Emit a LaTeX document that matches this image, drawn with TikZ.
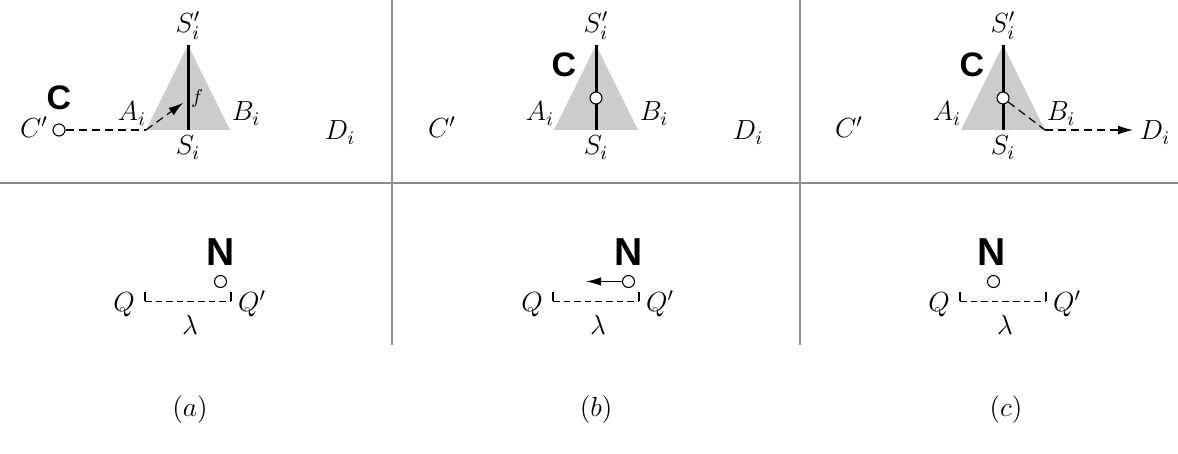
\RequirePackage{fix-cm}
\documentclass[tikz,border=0pt]{standalone}
\usepackage{fontspec}
\newfontfamily\boldsans{Liberation Sans}
\usetikzlibrary{arrows.meta}
\definecolor{divgray}{HTML}{8C8C8C}
\definecolor{trigray}{HTML}{CCCCCC}
\tikzset{
  divider/.style={draw=divgray, line width=1pt},
  tri/.style={fill=trigray, draw=none},
  seg/.style={line width=1.5pt},
  pt/.style={circle, draw, fill=white, line width=0.55pt, minimum size=6pt, inner sep=0pt},
  lbl/.style={inner sep=0pt, anchor=base},
  bigC/.style={font=\fontsize{17}{17}\selectfont\boldsans\bfseries, inner sep=0pt},
  bigN/.style={font=\fontsize{19.5}{19.5}\selectfont\boldsans\bfseries, inner sep=0pt},
  smalllbl/.style={inner sep=0pt, anchor=base, font=\fontsize{10}{12}\selectfont},
  dsh/.style={dash pattern=on 4pt off 2.5pt, line width=0.6pt},
  bdsh/.style={dash pattern=on 3.3pt off 2pt, line width=0.6pt},
  arr/.style={-{Latex[length=7.5pt,width=4.5pt]}},
  sarr/.style={-{Latex[length=7.5pt,width=4.2pt]}, line width=0.6pt},
  captxt/.style={inner sep=0pt}
}
\begin{document}
\begin{tikzpicture}[x=0.5pt,y=-0.5pt,font=\fontsize{13.8}{16}\selectfont]
\useasboundingbox (0,0) rectangle (1178,454);
% dividers
\coordinate (h1) at (0,183); \coordinate (h2) at (1178,183);
\coordinate (v1t) at (392,0); \coordinate (v1b) at (392,345);
\coordinate (v2t) at (800,0); \coordinate (v2b) at (800,345);
\draw[divider] (h1) -- (h2);
\draw[divider] (v1t) -- (v1b);
\draw[divider] (v2t) -- (v2b);

% ---------- panel (a) ----------
\begin{scope}[shift={(188,0)}]
  \coordinate (aT) at (0,45); \coordinate (aL) at (-42,130);
  \coordinate (aR) at (42,130); \coordinate (aB) at (0,130);
  \fill[tri] (aT) -- (aL) -- (aR) -- cycle;
  \draw[seg] (aT) -- (aB);
  \node[lbl] (aSp) at (0,33) {$S'_i$};
  \node[lbl] (aS) at (0,155) {$S_i$};
  \node[lbl] (aA) at (-56,121) {$A_i$};
  \node[lbl] (aBl) at (58,121) {$B_i$};
  \node[lbl] (aCp) at (-154,138) {$C'$};
  \node[lbl] (aD) at (152,140) {$D_i$};
  \node[smalllbl] (af) at (9,104) {$f$};
  \node[pt] (aP) at (-129,130) {};
  \node[bigC] (aC) at (-129,98) {C};
  \coordinate (aTip) at (-4.7,102.7);
  \draw[dsh] (aP) -- (aL);
  \draw[dsh,arr] (aL) -- (aTip);
  % bottom
  \node[bigN] (aN) at (32.5,252) {N};
  \node[pt] (aQp) at (32.5,281.5) {};
  \coordinate (aK1) at (-43,292); \coordinate (aK2) at (-43,301.5);
  \coordinate (aK3) at (43,301.5); \coordinate (aK4) at (43,292);
  \draw[line width=0.6pt] (aK1) -- (aK2);
  \draw[bdsh] (aK2) -- (aK3);
  \draw[line width=0.6pt] (aK3) -- (aK4);
  \node[lbl] (aQ) at (-64,312) {$Q$};
  \node[lbl] (aQq) at (64,312) {$Q'$};
  \node[lbl] (aLam) at (2,335) {$\lambda$};
  \node[captxt] (acap) at (2,410) {$(a)$};
\end{scope}

% ---------- panel (b) ----------
\begin{scope}[shift={(596,0)}]
  \coordinate (bT) at (0,45); \coordinate (bL) at (-42,130);
  \coordinate (bR) at (42,130); \coordinate (bB) at (0,130);
  \fill[tri] (bT) -- (bL) -- (bR) -- cycle;
  \draw[seg] (bT) -- (bB);
  \node[lbl] (bSp) at (0,33) {$S'_i$};
  \node[lbl] (bS) at (0,155) {$S_i$};
  \node[lbl] (bA) at (-56,121) {$A_i$};
  \node[lbl] (bBl) at (58,121) {$B_i$};
  \node[lbl] (bCp) at (-154,138) {$C'$};
  \node[lbl] (bD) at (152,140) {$D_i$};
  \node[pt] (bP) at (0,98) {};
  \node[bigC] (bC) at (-32,65) {C};
  % bottom
  \node[bigN] (bN) at (32.5,252) {N};
  \node[pt] (bQp) at (32.5,281.5) {};
  \coordinate (bTip) at (-10,281.5);
  \draw[sarr] (bQp) -- (bTip);
  \coordinate (bK1) at (-43,292); \coordinate (bK2) at (-43,301.5);
  \coordinate (bK3) at (43,301.5); \coordinate (bK4) at (43,292);
  \draw[line width=0.6pt] (bK1) -- (bK2);
  \draw[bdsh] (bK2) -- (bK3);
  \draw[line width=0.6pt] (bK3) -- (bK4);
  \node[lbl] (bQ) at (-64,312) {$Q$};
  \node[lbl] (bQq) at (64,312) {$Q'$};
  \node[lbl] (bLam) at (2,335) {$\lambda$};
  \node[captxt] (bcap) at (0,410) {$(b)$};
\end{scope}

% ---------- panel (c) ----------
\begin{scope}[shift={(1003,0)}]
  \coordinate (cT) at (0,45); \coordinate (cL) at (-42,130);
  \coordinate (cR) at (42,130); \coordinate (cB) at (0,130);
  \fill[tri] (cT) -- (cL) -- (cR) -- cycle;
  \draw[seg] (cT) -- (cB);
  \node[lbl] (cSp) at (0,33) {$S'_i$};
  \node[lbl] (cS) at (0,155) {$S_i$};
  \node[lbl] (cA) at (-56,121) {$A_i$};
  \node[lbl] (cBl) at (58,121) {$B_i$};
  \node[lbl] (cCp) at (-154,138) {$C'$};
  \node[lbl] (cD) at (152,140) {$D_i$};
  \node[pt] (cP) at (0,98) {};
  \node[bigC] (cC) at (-31,65) {C};
  \coordinate (cTip) at (130,130);
  \draw[dsh] (cP) -- (cR);
  \draw[dsh,arr] (cR) -- (cTip);
  % bottom
  \node[bigN] (cN) at (-11,252) {N};
  \node[pt] (cQp) at (-9.5,281.5) {};
  \coordinate (cK1) at (-43,292); \coordinate (cK2) at (-43,301.5);
  \coordinate (cK3) at (43,301.5); \coordinate (cK4) at (43,292);
  \draw[line width=0.6pt] (cK1) -- (cK2);
  \draw[bdsh] (cK2) -- (cK3);
  \draw[line width=0.6pt] (cK3) -- (cK4);
  \node[lbl] (cQ) at (-64,312) {$Q$};
  \node[lbl] (cQq) at (64,312) {$Q'$};
  \node[lbl] (cLam) at (2,335) {$\lambda$};
  \node[captxt] (ccap) at (3,410) {$(c)$};
\end{scope}
\end{tikzpicture}
\end{document}
